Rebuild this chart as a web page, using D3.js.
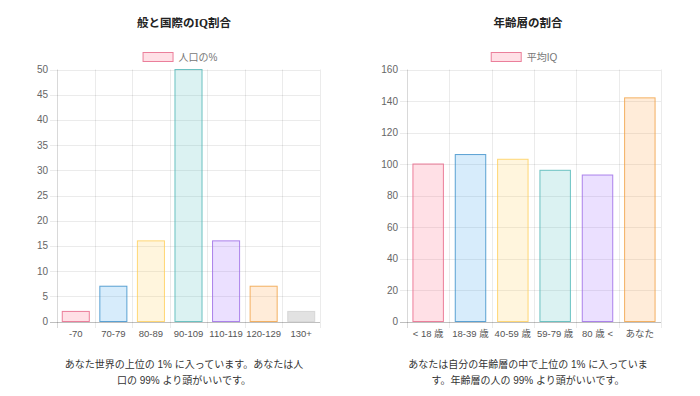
<!DOCTYPE html>
<html>
<head>
<meta charset="utf-8">
<script src="https://cdn.jsdelivr.net/npm/d3@7"></script>
<style>
  body { margin: 0; background: #fff; }
  svg { display: block; }
</style>
</head>
<body>
<svg id="chart" width="700" height="396"></svg>
<script>
  // left chart: share of population by IQ band
  var iqBands = ['-70', '70-79', '80-89', '90-109', '110-119', '120-129', '130+'];
  var iqShare = [2, 7, 16, 50, 16, 7, 2];
  var iqTicks = [0, 5, 10, 15, 20, 25, 30, 35, 40, 45, 50];

  // right chart: average IQ by age group
  var ageGroups = ['< 18 歳', '18-39 歳', '40-59 歳', '59-79 歳', '80 歳 <', 'あなた'];
  var ageIQ = [100, 106, 103, 96, 93, 142];
  var ageTicks = [0, 20, 40, 60, 80, 100, 120, 140, 160];

  var fills = ['rgba(255,99,132,0.2)', 'rgba(54,162,235,0.2)', 'rgba(255,206,86,0.2)',
    'rgba(75,192,192,0.2)', 'rgba(153,102,255,0.2)', 'rgba(255,159,64,0.2)', 'rgba(160,160,160,0.3)'];
  var borders = ['rgba(230,99,132,0.8)', 'rgba(54,140,200,0.8)', 'rgba(255,206,86,0.8)',
    'rgba(75,180,180,0.8)', 'rgba(153,102,230,0.8)', 'rgba(240,159,64,0.8)', 'rgba(200,200,200,0.6)'];

  var TICK_FONT = '"Liberation Sans", Arial, "Noto Sans CJK JP", sans-serif';
  var JP_FONT = '"Liberation Sans", "Noto Sans CJK JP", sans-serif';

  var svg = d3.select('#chart');

  function drawChart(opts) {
    var g = svg.append('g');
    var x = d3.scaleBand().domain(opts.labels).range([opts.left, opts.right])
      .paddingInner(0).paddingOuter(0);
    var y = d3.scaleLinear().domain([0, opts.max]).range([321.5, 69.5]);
    var inner = x.bandwidth() * 0.72;
    var offset = (x.bandwidth() - inner) / 2;

    // title
    g.append('text')
      .attr('x', opts.titleX).attr('y', 27)
      .attr('text-anchor', 'middle')
      .attr('font-family', '"Liberation Serif", "Noto Sans CJK JP", serif')
      .attr('font-weight', 'bold').attr('font-size', 11.5)
      .attr('fill', '#222')
      .text(opts.title);

    // legend
    var legend = g.append('g');
    var lt = legend.append('text')
      .attr('y', 60.5)
      .attr('font-family', JP_FONT).attr('font-size', 10)
      .attr('fill', '#777')
      .text(opts.legend);
    var tw = lt.node().getComputedTextLength();
    var lx = opts.legendX - (31 + 5 + tw) / 2;
    legend.append('rect')
      .attr('x', lx + 0.5).attr('y', 52.5).attr('width', 30).attr('height', 9)
      .attr('fill', fills[0]).attr('stroke', borders[0]);
    lt.attr('x', lx + 36);

    // horizontal grid + y tick marks
    g.append('g').selectAll('line').data(opts.ticks).join('line')
      .attr('x1', opts.left - 7).attr('x2', opts.right)
      .attr('y1', function(d) { return Math.round(y(d)) + 0.5; })
      .attr('y2', function(d) { return Math.round(y(d)) + 0.5; })
      .attr('stroke', function(d) { return d === 0 ? 'rgba(0,0,0,0.25)' : 'rgba(0,0,0,0.08)'; });

    // vertical grid at category edges
    var edges = opts.labels.map(function(l) { return x(l); }).concat([opts.right]);
    g.append('g').selectAll('line').data(edges).join('line')
      .attr('x1', function(d) { return Math.round(d) + 0.5; })
      .attr('x2', function(d) { return Math.round(d) + 0.5; })
      .attr('y1', 69.5).attr('y2', 328)
      .attr('stroke', function(d, i) { return i === 0 ? 'rgba(0,0,0,0.15)' : 'rgba(0,0,0,0.08)'; });

    // y labels
    g.append('g').selectAll('text').data(opts.ticks).join('text')
      .attr('x', opts.left - 9).attr('y', function(d) { return y(d) + 3.5; })
      .attr('text-anchor', 'end')
      .attr('font-family', TICK_FONT).attr('font-size', 10)
      .attr('fill', '#666')
      .text(function(d) { return d; });

    // x labels
    g.append('g').selectAll('text').data(opts.labels).join('text')
      .attr('x', function(d) { return x(d) + x.bandwidth() / 2; })
      .attr('y', 337)
      .attr('text-anchor', 'middle')
      .attr('font-family', TICK_FONT).attr('font-size', 9.5)
      .attr('fill', '#555')
      .text(function(d) { return d; });

    // bars
    g.append('g').selectAll('rect').data(opts.values).join('rect')
      .attr('x', function(d, i) { return x(opts.labels[i]) + offset; })
      .attr('width', inner)
      .attr('y', function(d) { return y(d); })
      .attr('height', function(d) { return y(0) - y(d); })
      .attr('fill', function(d, i) { return fills[i]; })
      .attr('stroke', function(d, i) { return borders[i]; })
      .attr('stroke-width', 1);

    // caption below
    g.append('g').selectAll('text').data(opts.caption).join('text')
      .attr('x', opts.titleX).attr('y', function(d, i) { return 368 + i * 16; })
      .attr('text-anchor', 'middle')
      .attr('font-family', JP_FONT).attr('font-size', 10)
      .attr('fill', '#333')
      .text(function(d) { return d; });
  }

  drawChart({
    labels: iqBands, values: iqShare, ticks: iqTicks, max: 50,
    left: 57, right: 320, titleX: 184, legendX: 180,
    title: '般と国際のIQ割合', legend: '人口の%',
    caption: ['あなた世界の上位の 1% に入っています。あなたは人', '口の 99% より頭がいいです。']
  });

  drawChart({
    labels: ageGroups, values: ageIQ, ticks: ageTicks, max: 160,
    left: 407, right: 661, titleX: 528, legendX: 524,
    title: '年齢層の割合', legend: '平均IQ',
    caption: ['あなたは自分の年齢層の中で上位の 1% に入っていま', 'す。年齢層の人の 99% より頭がいいです。']
  });
</script>
</body>
</html>
